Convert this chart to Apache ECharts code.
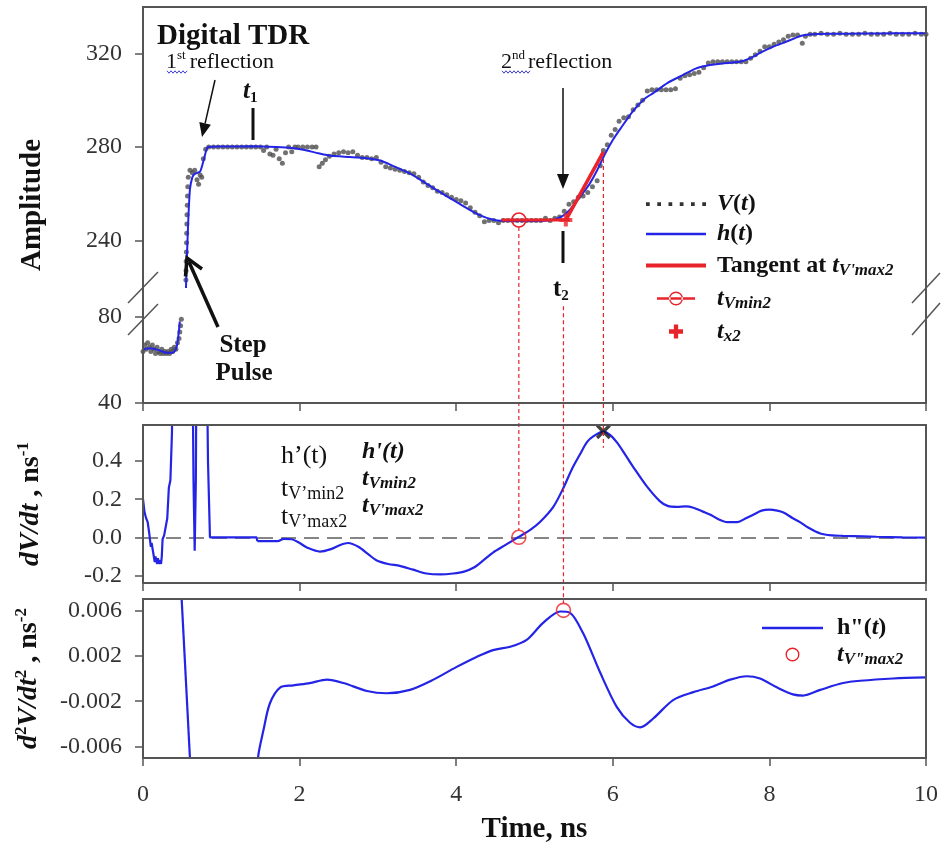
<!DOCTYPE html>
<html>
<head>
<meta charset="utf-8">
<title>Digital TDR</title>
<script src="https://cdn.jsdelivr.net/npm/echarts@6.0.0/dist/echarts.min.js"></script>
<style>
html,body{margin:0;padding:0;background:#fff;}
#chart{width:943px;height:846px;}
</style>
</head>
<body>
<div id="chart"></div>
<script>
// ================= DATA =================
const timeTickInterval = 2;
const ampUpperTicks = [240, 280, 320];
const ampLowerTicks = [40, 80];
const dvTicks = [-0.2, 0.0, 0.2, 0.4];
const d2vTicks = [-0.006, -0.002, 0.002, 0.006];

// V(t) sampled points, lower (broken) segment of the amplitude axis
const vLower = [[0.00,64],[0.02,67],[0.04,65],[0.06,68],[0.08,66],[0.10,64],[0.12,67],[0.14,65],[0.16,63],[0.18,66],[0.20,64],[0.22,63],[0.24,65],[0.26,63],[0.28,64],[0.30,63],[0.32,64],[0.34,63],[0.36,65],[0.38,64],[0.40,66],[0.42,65],[0.44,68],[0.46,70],[0.47,73],[0.48,76],[0.49,79]];
// V(t) sampled points, upper segment
const vUpper = [[0.545,219],[0.548,223],[0.550,227],[0.552,231],[0.554,235],[0.556,239],[0.558,243],[0.560,247],[0.562,251],[0.565,255],[0.568,259],[0.572,263],[0.578,267],[0.60,270],[0.63,269],[0.66,270],[0.69,266],[0.71,264],[0.73,268],[0.75,267],[0.77,275],[0.80,279],[0.84,280],[0.90,280],[0.96,280],[1.02,280],[1.08,280],[1.14,280],[1.20,280],[1.26,280],[1.32,280],[1.38,280],[1.44,280],[1.50,280],[1.54,278.5],[1.58,280],[1.62,277],[1.66,276.5],[1.70,279],[1.74,275],[1.78,273],[1.82,277.5],[1.86,280],[1.90,278],[1.94,280],[1.98,280],[2.04,280],[2.10,280],[2.16,280],[2.21,280],[2.25,271.5],[2.29,273],[2.33,274.5],[2.38,276],[2.44,277],[2.50,277.5],[2.56,278],[2.62,277.5],[2.68,278],[2.74,276.5],[2.80,275.5],[2.86,275.5],[2.92,275],[2.98,275.5],[3.04,273.5],[3.10,271.5],[3.16,271],[3.22,270.5],[3.28,270],[3.34,269.5],[3.40,269],[3.46,268.5],[3.52,267],[3.58,265],[3.64,263.5],[3.70,262.5],[3.76,261],[3.82,260.5],[3.88,259.5],[3.94,258.5],[4.00,257.5],[4.06,257],[4.12,256],[4.18,254],[4.24,252],[4.30,250.5],[4.36,248],[4.42,248.5],[4.48,248.5],[4.54,247.5],[4.60,248.5],[4.66,248.5],[4.72,248.5],[4.78,248.5],[4.84,248.5],[4.90,248.5],[4.96,248.5],[5.02,248.5],[5.08,248.5],[5.14,249.5],[5.20,248.5],[5.26,249.5],[5.32,250],[5.38,252.5],[5.44,255.5],[5.50,256.5],[5.56,258.5],[5.62,259],[5.68,260.5],[5.74,263],[5.80,265.5],[5.84,272],[5.88,278.5],[5.93,281],[5.98,285],[6.03,287.5],[6.08,291],[6.14,292.5],[6.20,293],[6.26,296],[6.32,298],[6.38,300],[6.44,304],[6.50,304.5],[6.56,304.5],[6.62,304.5],[6.68,304.5],[6.74,304.5],[6.80,305],[6.86,309.5],[6.92,310.5],[6.98,311],[7.04,311.5],[7.10,312],[7.16,314],[7.22,316],[7.28,316.5],[7.34,316.5],[7.40,316.5],[7.46,316.5],[7.52,316.5],[7.58,316.5],[7.64,316.5],[7.70,316.5],[7.76,318],[7.82,319.5],[7.88,321],[7.94,323],[8.00,323],[8.06,324],[8.12,325],[8.18,326],[8.24,327.5],[8.30,328],[8.36,328],[8.42,324.5],[8.46,327.5],[8.52,328.3],[8.58,328.3],[8.66,328.8],[8.74,328.3],[8.82,328.3],[8.90,328.8],[8.98,328.3],[9.06,328.3],[9.14,328.3],[9.22,328.8],[9.30,328.3],[9.38,328.3],[9.46,328.3],[9.54,328.8],[9.62,328.3],[9.70,328.3],[9.78,328.3],[9.86,328.8],[9.94,328.3],[10.0,328.3]];

// h(t) fitted curve
const hLowerT = [0, 0.1, 0.2, 0.3, 0.38, 0.42, 0.44, 0.46, 0.47];
const hLowerV = [65, 65.5, 64.6, 63.4, 63.4, 65, 68, 74, 78];
const hUpperT = [0.545,0.56,0.58,0.60,0.63,0.66,0.73,0.78,0.83,1.0,1.4,1.7,1.9,2.05,2.24,2.4,2.64,2.85,3.03,3.2,3.4,3.54,3.75,3.96,4.15,4.3,4.45,4.56,4.8,5.0,5.24,5.35,5.41,5.5,5.58,5.7,5.8,5.9,6.0,6.1,6.26,6.4,6.52,6.7,6.9,7.05,7.24,7.45,7.62,7.75,7.88,8.05,8.22,8.35,8.45,8.6,8.81,9.2,9.6,10];
const hUpperV = [215,232,250,262,267,268.5,269.5,275,280,280.2,280.3,280,279.6,278.8,277.3,276.2,275.7,275.2,274.2,271.8,268.8,266,261.5,257.3,253.5,250.8,249,248.4,248.3,248.3,248.8,250.3,251.7,255,258.6,264,270,277,283,288,295.5,300.5,303.2,307.5,310.9,313.5,315.1,316,316.5,318,320.3,323,325.2,327,328,328.4,328.5,328.6,328.7,328.8];

// Tangent, t_Vmin2, t_x2
const tangentT = [5.40, 5.88];
const tangentV = [248.7, 277.9];
const vmin2LineT = [4.58, 4.80, 5.45];
const vmin2LineV = [248.7, 248.7, 248.7];
const vmin2Point = [4.80, 248.7];
const tx2Point = [5.40, 248.7];

// h'(t)
const dvSpikeT = [0,0.02,0.04,0.06,0.08,0.10,0.11,0.13,0.15,0.16,0.18,0.19,0.21,0.22,0.23,0.24,0.25,0.27,0.29,0.31,0.33,0.35,0.37,0.39,0.62,0.645,0.66,0.675,0.69,0.80,0.83,0.855,1.45,1.46];
const dvSpikeV = [0.20,0.13,0.10,0.08,0.02,-0.05,-0.03,-0.08,-0.13,-0.10,-0.14,-0.11,-0.14,-0.12,-0.14,-0.10,-0.01,0.01,0.02,0.10,0.26,0.30,0.55,1.5,1.5,0.3,-0.07,0.3,1.5,1.5,0.4,0.0,0.0,-0.02];
const dvSmoothT = [1.46,1.6,1.72,1.8,1.9,2.0,2.1,2.26,2.4,2.52,2.62,2.75,2.88,2.98,3.13,3.28,3.45,3.62,3.8,3.96,4.1,4.22,4.35,4.47,4.63,4.79,4.95,5.07,5.24,5.37,5.48,5.58,5.67,5.75,5.88,5.96,6.05,6.15,6.26,6.43,6.6,6.7,6.82,6.93,7.03,7.15,7.24,7.35,7.46,7.59,7.7,7.8,7.9,8.0,8.1,8.18,8.3,8.39,8.5,8.65,8.8,8.94,9.2,9.37,9.7,10];
const dvSmoothV = [-0.02,-0.02,-0.02,-0.008,-0.01,-0.03,-0.055,-0.075,-0.062,-0.04,-0.03,-0.05,-0.09,-0.12,-0.14,-0.15,-0.17,-0.19,-0.195,-0.19,-0.18,-0.16,-0.12,-0.08,-0.04,0.0,0.04,0.08,0.16,0.26,0.36,0.435,0.50,0.53,0.555,0.54,0.50,0.44,0.37,0.27,0.19,0.165,0.16,0.162,0.155,0.135,0.12,0.095,0.08,0.08,0.10,0.12,0.14,0.145,0.14,0.13,0.10,0.08,0.05,0.02,0.01,0.008,0.005,0.003,0.0,-0.002];
const dvZeroPoint = [4.80, 0.0];
const dvMaxPoint = [5.88, 0.555];

// h''(t)
const d2SpikeT = [0.48, 0.62];
const d2SpikeV = [0.0088, -0.0097];
const d2SmoothT = [1.44,1.47,1.54,1.62,1.75,1.92,2.13,2.35,2.56,2.86,3.11,3.41,3.71,4.0,4.26,4.47,4.69,4.9,5.11,5.33,5.45,5.62,5.84,6.05,6.22,6.35,6.52,6.77,7.03,7.28,7.5,7.71,7.88,8.1,8.3,8.43,8.65,8.94,9.16,9.58,10];
const d2SmoothV = [-0.0105,-0.0069,-0.0045,-0.0022,-0.0008,-0.0006,-0.0004,-0.0001,-0.0004,-0.0011,-0.0013,-0.001,-0.0001,0.001,0.0019,0.0025,0.0028,0.0034,0.0049,0.0059,0.0058,0.004,0.0005,-0.0025,-0.0039,-0.0043,-0.0035,-0.0019,-0.0012,-0.0007,-0.0001,0.0002,0.0,-0.0008,-0.0014,-0.0015,-0.001,-0.0004,-0.0002,0.0,0.0001];
const d2MaxPoint = [5.37, 0.0060];

// vertical drop lines linking the panels (grid index + data point)
const dropLines = [
  {fromGrid: 0, from: [4.80, 248.7], toGrid: 2, to: [4.80, 0.0], trimTop: 7, trimBottom: 7},
  {fromGrid: 1, from: [5.37, 85], toGrid: 3, to: [5.37, 0.0060], trimTop: 0, trimBottom: 7},
  {fromGrid: 0, from: [5.88, 277.9], toGrid: 2, to: [5.88, 0.47], trimTop: 0, trimBottom: 0}
];

// ================= STYLE =================
const FONT = 'Liberation Serif';
const BLUE = '#2424e6';
const RED = '#e8232a';
const FRAME = '#555';
const LABEL = '#333';
const TXT = '#111';
const zip = (a, b) => a.map((t, i) => [t, b[i]]);

const L = 143, W = 783;
const G = [
  {top: 7, height: 280},
  {top: 287, height: 116},
  {top: 425, height: 158},
  {top: 599, height: 159}
];

const ICON_DOTS = 'path://M0,0h3.5v3.5h-3.5zM10.5,0h3.5v3.5h-3.5zM21,0h3.5v3.5h-3.5zM31.5,0h3.5v3.5h-3.5zM42,0h3.5v3.5h-3.5zM52.5,0h3.5v3.5h-3.5z';
const ICON_BAR = 'path://M0,0h60v2.5h-60z';
const ICON_THICK = 'path://M0,0h60v4h-60z';
const ICON_RINGLINE = 'path://M0,6h38v2.5h-38z M12,7.25a7,7 0 1,0 14,0a7,7 0 1,0 -14,0z M13.4,7.25a5.6,5.6 0 1,1 11.2,0a5.6,5.6 0 1,1 -11.2,0z';
const ICON_PLUS = 'path://M4.5,0h4v13h-4z M0,4.5h13v4h-13z';
const ICON_RING = 'path://M0,7a7,7 0 1,0 14,0a7,7 0 1,0 -14,0z M1.4,7a5.6,5.6 0 1,1 11.2,0a5.6,5.6 0 1,1 -11.2,0z';
const SYM_X = 'path://M0,2.5L2.5,0L8,5.5L13.5,0L16,2.5L10.5,8L16,13.5L13.5,16L8,10.5L2.5,16L0,13.5L5.5,8z';

const richLegend = {
  b:  {fontFamily: FONT, fontWeight: 'bold', fontSize: 24, lineHeight: 28, color: TXT},
  bi: {fontFamily: FONT, fontWeight: 'bold', fontStyle: 'italic', fontSize: 24, lineHeight: 28, color: TXT},
  sub:{fontFamily: FONT, fontWeight: 'bold', fontStyle: 'italic', fontSize: 17, lineHeight: 18, padding: [10, 0, 0, 0], color: TXT}
};
const legendText = {
  'V(t)': '{bi|V}{b|(}{bi|t}{b|)}',
  'h(t)': '{bi|h}{b|(}{bi|t}{b|)}',
  'Tangent': "{b|Tangent at }{bi|t}{sub|V'max2}",
  'tVmin2': '{bi|t}{sub|Vmin2}',
  'tx2': '{bi|t}{sub|x2}',
  'h2': '{b|h"(}{bi|t}{b|)}',
  'tV2': '{bi|t}{sub|V"max2}'
};
const legendItem = (name, icon, color) => ({name, icon, itemStyle: {color, borderColor: color, borderWidth: 0, opacity: 1}});

const xAx = (i, extra) => Object.assign({
  type: 'value', gridIndex: i, min: 0, max: 10, interval: timeTickInterval,
  axisLine: {show: false, onZero: false}, splitLine: {show: false},
  axisTick: {show: true, length: 8, lineStyle: {color: FRAME, width: 1.5}},
  axisLabel: {show: false}
}, extra || {});
const yAx = (i, min, max, ticks, fmt, extra) => Object.assign({
  type: 'value', gridIndex: i, min, max,
  axisLine: {show: false, onZero: false}, splitLine: {show: false},
  axisTick: {show: true, length: 8, customValues: ticks, lineStyle: {color: FRAME, width: 1.5}},
  axisLabel: {show: true, customValues: ticks, formatter: fmt, fontFamily: FONT, fontSize: 24, color: LABEL, margin: 21}
}, extra || {});

const nameRich = {
  bi: {fontFamily: FONT, fontWeight: 'bold', fontStyle: 'italic', fontSize: 28, lineHeight: 34, color: TXT},
  b:  {fontFamily: FONT, fontWeight: 'bold', fontSize: 28, lineHeight: 34, color: TXT},
  sup:{fontFamily: FONT, fontWeight: 'bold', fontSize: 17, lineHeight: 18, padding: [0, 0, 14, 0], color: TXT}
};

const option = {
  animation: false,
  backgroundColor: '#fff',
  grid: G.map(g => ({left: L, width: W, top: g.top, height: g.height, containLabel: false, outerBoundsMode: 'none', show: false})),
  xAxis: [
    xAx(0, {show: false}),
    xAx(1),
    xAx(2),
    xAx(3, {
      axisLabel: {show: true, fontFamily: FONT, fontSize: 24, color: LABEL, margin: 25},
      name: 'Time, ns', nameLocation: 'middle', nameGap: 57,
      nameTextStyle: {fontFamily: FONT, fontWeight: 'bold', fontSize: 29, color: TXT}
    })
  ],
  yAxis: [
    yAx(0, 220, 340, ampUpperTicks, v => String(v)),
    yAx(1, 40, 94, ampLowerTicks, v => String(v)),
    yAx(2, -0.24, 0.59, dvTicks, v => v.toFixed(1), {
      name: '{bi|dV/dt}{b| , ns}{sup|-1}', nameLocation: 'middle', nameGap: 95,
      nameTextStyle: {fontFamily: FONT, fontSize: 28, color: TXT, rich: nameRich}
    }),
    yAx(3, -0.007, 0.007, d2vTicks, v => v.toFixed(3), {
      name: '{bi|d}{sup|2}{bi|V/dt}{sup|2}{b| , ns}{sup|-2}', nameLocation: 'middle', nameGap: 97,
      nameTextStyle: {fontFamily: FONT, fontSize: 28, color: TXT, rich: nameRich}
    })
  ],
  legend: [
    {
      data: [legendItem('V(t)', ICON_DOTS, '#333'), legendItem('h(t)', ICON_BAR, BLUE), legendItem('Tangent', ICON_THICK, RED), legendItem('tVmin2', ICON_RINGLINE, RED), legendItem('tx2', ICON_PLUS, RED)],
      orient: 'vertical', left: 641, top: 187, itemWidth: 60, itemHeight: 14, itemGap: 6,
      selectedMode: false, formatter: n => legendText[n],
      textStyle: {fontFamily: FONT, fontSize: 24, color: TXT, padding: [0, 0, 0, 6], rich: richLegend}
    },
    {
      data: [legendItem('h2', ICON_BAR, BLUE), legendItem('tV2', ICON_RING, RED)],
      orient: 'vertical', left: 757, top: 611, itemWidth: 61, itemHeight: 14, itemGap: 1,
      selectedMode: false, formatter: n => legendText[n],
      textStyle: {fontFamily: FONT, fontSize: 24, color: TXT, padding: [0, 0, 0, 9], rich: richLegend}
    }
  ],
  series: [
    {name: 'V(t)', type: 'scatter', xAxisIndex: 0, yAxisIndex: 0, data: vUpper, symbolSize: 5, itemStyle: {color: '#4d4d4d'}, z: 2, silent: true},
    {name: 'V(t)', type: 'scatter', xAxisIndex: 1, yAxisIndex: 1, data: vLower, symbolSize: 5, itemStyle: {color: '#4d4d4d'}, z: 2, silent: true},
    {name: 'h(t)', type: 'line', xAxisIndex: 0, yAxisIndex: 0, data: zip(hUpperT, hUpperV), symbol: 'none', smooth: 0.2, lineStyle: {color: BLUE, width: 2}, itemStyle: {color: BLUE}, z: 3, silent: true},
    {name: 'h(t)', type: 'line', xAxisIndex: 1, yAxisIndex: 1, data: zip(hLowerT, hLowerV), symbol: 'none', smooth: 0.2, lineStyle: {color: BLUE, width: 2}, itemStyle: {color: BLUE}, z: 3, silent: true},
    {name: 'Tangent', type: 'line', xAxisIndex: 0, yAxisIndex: 0, data: zip(tangentT, tangentV), symbol: 'none', lineStyle: {color: RED, width: 3.5}, itemStyle: {color: RED}, z: 4, silent: true},
    {name: 'tVmin2', type: 'line', xAxisIndex: 0, yAxisIndex: 0,
      data: zip(vmin2LineT, vmin2LineV).map(p => ({value: p, symbol: p[0] === vmin2Point[0] ? 'circle' : 'none'})),
      symbolSize: 14, showSymbol: true, lineStyle: {color: RED, width: 3}, itemStyle: {color: 'rgba(0,0,0,0)', borderColor: RED, borderWidth: 1.6}, z: 5, silent: true},
    {name: 'tx2', type: 'scatter', xAxisIndex: 0, yAxisIndex: 0, data: [tx2Point], symbol: ICON_PLUS, symbolSize: 13, itemStyle: {color: RED}, z: 6, silent: true},

    {name: 'dv1', type: 'line', xAxisIndex: 2, yAxisIndex: 2, data: zip(dvSpikeT, dvSpikeV), symbol: 'none', lineStyle: {color: BLUE, width: 2.2}, z: 3, silent: true},
    {name: 'dv1s', type: 'line', xAxisIndex: 2, yAxisIndex: 2, data: zip(dvSmoothT, dvSmoothV), symbol: 'none', smooth: 0.3, lineStyle: {color: BLUE, width: 2.2}, z: 3, silent: true,
      markLine: {silent: true, symbol: ['none', 'none'], label: {show: false}, lineStyle: {type: [15, 8], color: '#858585', width: 2}, data: [{yAxis: 0}], z: 1}},
    {name: 'dvZero', type: 'scatter', xAxisIndex: 2, yAxisIndex: 2, data: [dvZeroPoint], symbol: 'circle', symbolSize: 14, itemStyle: {color: 'rgba(0,0,0,0)', borderColor: RED, borderWidth: 1.6}, z: 6, silent: true},
    {name: 'dvMax', type: 'scatter', xAxisIndex: 2, yAxisIndex: 2, data: [dvMaxPoint], symbol: SYM_X, symbolSize: 15, itemStyle: {color: '#111'}, z: 6, silent: true},

    {name: 'h2a', type: 'line', xAxisIndex: 3, yAxisIndex: 3, data: zip(d2SpikeT, d2SpikeV), symbol: 'none', lineStyle: {color: BLUE, width: 2.2}, z: 3, silent: true},
    {name: 'h2', type: 'line', xAxisIndex: 3, yAxisIndex: 3, data: zip(d2SmoothT, d2SmoothV), symbol: 'none', smooth: 0.3, lineStyle: {color: BLUE, width: 2.2}, itemStyle: {color: BLUE}, z: 3, silent: true},
    {name: 'tV2', type: 'scatter', xAxisIndex: 3, yAxisIndex: 3, data: [d2MaxPoint], symbol: 'circle', symbolSize: 14, itemStyle: {color: 'rgba(0,0,0,0)', borderColor: RED, borderWidth: 1.6}, z: 6, silent: true}
  ]
};

const chart = echarts.init(document.getElementById('chart'));
chart.setOption(option);

// ---------- decorations (layout) ----------
const txt = (x, y, text, rich, extra) => Object.assign({
  type: 'text', x, y, z: 20, silent: true,
  style: Object.assign({text, rich, fontFamily: FONT, fontSize: 22, fill: TXT, align: 'left', verticalAlign: 'middle'}, extra || {})
});
const ln = (x1, y1, x2, y2, w, color, dash) => ({type: 'line', z: 19, silent: true, shape: {x1, y1, x2, y2}, style: {stroke: color || '#111', lineWidth: w || 1.5, lineDash: dash || null}});
const wavy = (x0, x1, y) => { const pts = []; let k = 0; for (let x = x0; x <= x1; x += 2) { pts.push([x, y + (k++ % 2 ? 1.2 : -1.2)]); } return {type: 'polyline', z: 19, silent: true, shape: {points: pts}, style: {stroke: '#3b3bd0', lineWidth: 1, fill: null}}; };

const R = (size, weight, style, extra) => Object.assign({fontFamily: FONT, fontSize: size, fontWeight: weight || 'normal', fontStyle: style || 'normal', fill: TXT}, extra || {});

const statics = [
  // frames
  {type: 'rect', z: 18, silent: true, shape: {x: L, y: G[0].top, width: W, height: G[1].top + G[1].height - G[0].top}, style: {fill: null, stroke: FRAME, lineWidth: 2}},
  {type: 'rect', z: 18, silent: true, shape: {x: L, y: G[2].top, width: W, height: G[2].height}, style: {fill: null, stroke: FRAME, lineWidth: 2}},
  {type: 'rect', z: 18, silent: true, shape: {x: L, y: G[3].top, width: W, height: G[3].height}, style: {fill: null, stroke: FRAME, lineWidth: 2}},
  // axis-break marks
  ln(128, 303, 158, 272, 1.5, FRAME), ln(128, 335, 158, 304, 1.5, FRAME),
  ln(912, 303, 940, 273, 1.5, FRAME), ln(912, 335, 940, 303, 1.5, FRAME),
  // Amplitude title
  {type: 'text', x: 33, y: 205, rotation: Math.PI / 2, z: 20, silent: true, style: {text: 'Amplitude', fontFamily: FONT, fontSize: 29, fontWeight: 'bold', fill: TXT, align: 'center', verticalAlign: 'middle'}},
  // title
  txt(157, 37, 'Digital TDR', null, {fontSize: 29, fontWeight: 'bold'}),
  // 1st reflection
  txt(166, 62, '{n|1}{s|st}{n|reflection}', {n: R(22, 'normal', 'normal', {lineHeight: 26}), s: R(13, 'normal', 'normal', {lineHeight: 14, padding: [0, 4, 12, 0]})}),
  wavy(167, 187, 72),
  ln(215, 80, 205.1, 123.4, 1.5),
  {type: 'polygon', z: 19, silent: true, shape: {points: [[202, 137], [210.9, 124.7], [199.3, 122.1]]}, style: {fill: '#111'}},
  // 2nd reflection
  txt(501, 62, '{n|2}{s|nd}{n|reflection}', {n: R(22, 'normal', 'normal', {lineHeight: 26}), s: R(13, 'normal', 'normal', {lineHeight: 14, padding: [0, 3, 12, 0]})}),
  wavy(502, 530, 72),
  ln(563, 88, 563, 175, 1.5),
  {type: 'polygon', z: 19, silent: true, shape: {points: [[563, 189], [557, 174], [569, 174]]}, style: {fill: '#111'}},
  // t1 and t2
  txt(243, 92, '{t|t}{s|1}', {t: R(25, 'bold', 'italic', {lineHeight: 28}), s: R(15, 'bold', 'normal', {lineHeight: 16, padding: [12, 0, 0, 0]})}),
  ln(253, 108, 253, 140, 3),
  ln(563, 231, 563, 263, 3),
  txt(553, 290, '{t|t}{s|2}', {t: R(25, 'bold', 'normal', {lineHeight: 28}), s: R(15, 'bold', 'normal', {lineHeight: 16, padding: [12, 0, 0, 0]})}),
  // Step Pulse
  ln(218, 327, 189, 262, 3.5),
  {type: 'polyline', z: 19, silent: true, shape: {points: [[202, 269], [187, 258], [185.5, 276.5]]}, style: {stroke: '#111', lineWidth: 3.5, fill: null}},
  txt(243, 346, 'Step', null, {fontSize: 25, fontWeight: 'bold', align: 'center'}),
  txt(244, 374, 'Pulse', null, {fontSize: 25, fontWeight: 'bold', align: 'center'}),
  // middle-panel text block
  txt(281, 456, '{r|h’(t)}', {r: R(26, 'normal', 'normal', {lineHeight: 30})}),
  txt(281, 489, '{r|t}{s|V’min2}', {r: R(26, 'normal', 'normal', {lineHeight: 30}), s: R(18, 'normal', 'normal', {lineHeight: 20, padding: [10, 0, 0, 0]})}),
  txt(281, 517, '{r|t}{s|V’max2}', {r: R(26, 'normal', 'normal', {lineHeight: 30}), s: R(18, 'normal', 'normal', {lineHeight: 20, padding: [10, 0, 0, 0]})}),
  txt(362, 452, "{b|h'(t)}", {b: R(24, 'bold', 'italic', {lineHeight: 28})}),
  txt(362, 479, '{b|t}{s|Vmin2}', {b: R(24, 'bold', 'italic', {lineHeight: 28}), s: R(17, 'bold', 'italic', {lineHeight: 18, padding: [10, 0, 0, 0]})}),
  txt(362, 506, "{b|t}{s|V'max2}", {b: R(24, 'bold', 'italic', {lineHeight: 28}), s: R(17, 'bold', 'italic', {lineHeight: 18, padding: [10, 0, 0, 0]})})
];

const px = (g, pt) => chart.convertToPixel({gridIndex: g}, pt);
const drops = dropLines.map(d => {
  const a = px(d.fromGrid, d.from), b = px(d.toGrid, d.to);
  return {type: 'line', z: 7, silent: true, shape: {x1: a[0], y1: a[1] + d.trimTop, x2: b[0], y2: b[1] - d.trimBottom}, style: {stroke: RED, lineWidth: 1.2, lineDash: [4, 3]}};
});

chart.setOption({graphic: statics.concat(drops)});
</script>
</body>
</html>
